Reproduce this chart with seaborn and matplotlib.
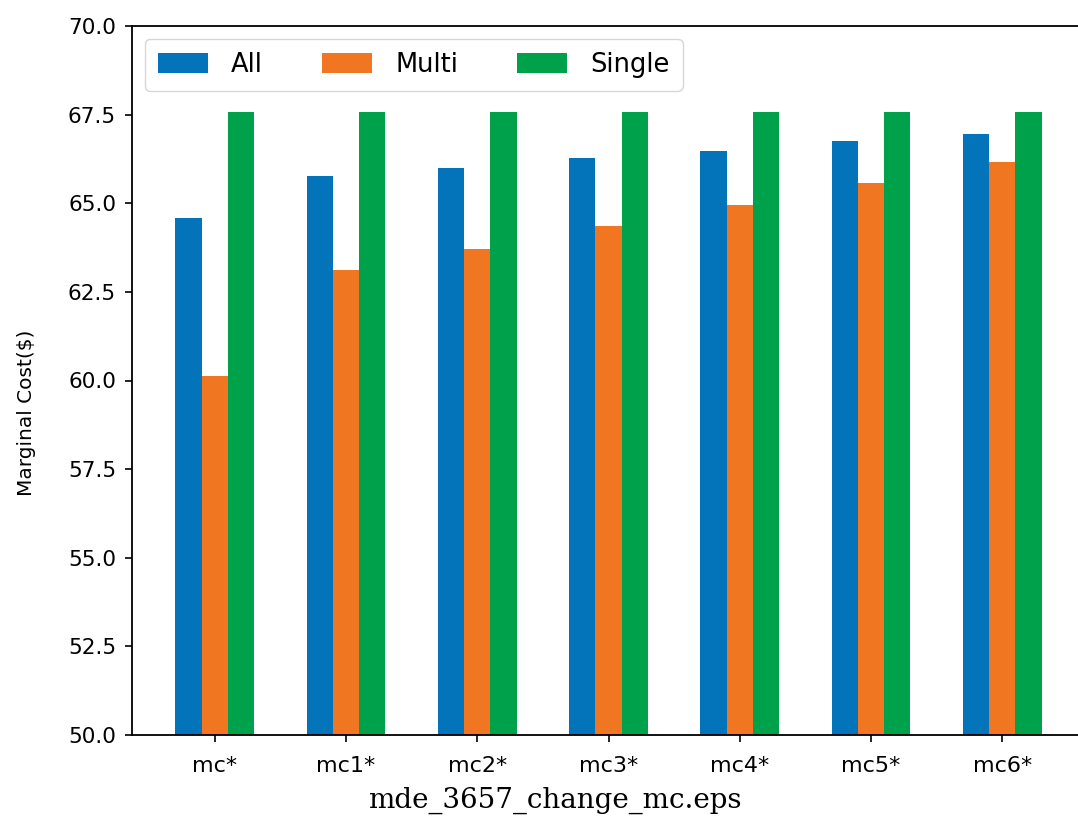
import pandas as pd
import matplotlib.pyplot as plt
import seaborn as sns
from matplotlib.ticker import MultipleLocator

# values
configs = ["mc*", "mc1*", "mc2*", "mc3*", "mc4*", "mc5*", "mc6*"]
all_cost = [64.58, 65.77, 65.99, 66.27, 66.48, 66.75, 66.96]
multi_cost = [60.14, 63.12, 63.72, 64.36, 64.96, 65.56, 66.15]
single_cost = [67.57, 67.57, 67.57, 67.57, 67.57, 67.57, 67.57]
groups = ["All", "Multi", "Single"]
colors = ["#0474ba", "#f07622", "#00a14b"]

# long format for seaborn
df = pd.DataFrame({
    "config": configs * 3,
    "group": ["All"] * 7 + ["Multi"] * 7 + ["Single"] * 7,
    "cost": all_cost + multi_cost + single_cost,
})

plt.rcParams["axes.linewidth"] = 1.3
plt.rcParams["xtick.major.width"] = 1.2
plt.rcParams["ytick.major.width"] = 1.2
plt.rcParams["xtick.major.size"] = 5
plt.rcParams["ytick.major.size"] = 5

fig = plt.figure(figsize=(10.78, 8.27), dpi=100)
# right spine sits just outside the canvas, like the cropped original
ax = fig.add_axes([132 / 1078, 1 - 735 / 827, (1085 - 132) / 1078, (735 - 26) / 827])

sns.barplot(data=df, x="config", y="cost", hue="group", hue_order=groups,
            palette=colors, width=0.6, saturation=1, errorbar=None, ax=ax)

ax.set_ylim(50, 70)
ax.set_xlim(-0.63, 6.63)
ax.yaxis.set_major_locator(MultipleLocator(2.5))
ax.set_xlabel("")
ax.set_ylabel(r"Marginal Cost(\$)", fontsize=14.5)
ax.yaxis.set_label_coords(-0.101, 0.454)
ax.tick_params(axis="x", labelsize=16, pad=10)
ax.tick_params(axis="y", labelsize=15.5, pad=6.5)

sns.move_legend(ax, "upper left", ncol=3, title=None, fontsize=18.5,
                handlelength=1.95, handleheight=0.8, handletextpad=0.9,
                columnspacing=2.3, borderpad=0.5, frameon=True)

fig.text(555 / 1078, 1 - 800 / 827, "mde_3657_change_mc.eps",
         family="DejaVu Serif", fontsize=20, ha="center", va="center")

fig.savefig("out.png", dpi=100)
